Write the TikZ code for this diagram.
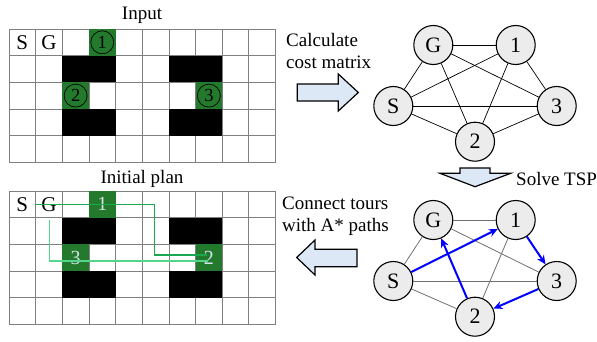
\documentclass[tikz,border=0pt]{standalone}
\usepackage{fontspec}
\setmainfont{Liberation Serif}
\usetikzlibrary{arrows.meta}

\definecolor{cellgreen}{RGB}{35,122,44}
\definecolor{pathdark}{RGB}{26,168,80}
\definecolor{pathlight}{RGB}{85,212,140}
\definecolor{nodefill}{RGB}{236,236,236}
\definecolor{arrowfill}{RGB}{220,232,245}
\definecolor{gridgray}{RGB}{128,128,128}
\definecolor{edgegray}{RGB}{112,112,112}
\definecolor{tourblue}{RGB}{0,0,255}
\definecolor{celltext}{RGB}{215,225,235}

% grid lines and obstacle blocks of the 10x5 map (cell units)
\newcommand\mapcells{%
  \foreach \i in {0,...,10} \draw[gridline] (\i,0) -- (\i,5);
  \foreach \j in {0,...,5} \draw[gridline] (0,\j) -- (10,\j);
  \fill[black] (2,1) rectangle (4,2);
  \fill[black] (6,1) rectangle (8,2);
  \fill[black] (2,3) rectangle (4,4);
  \fill[black] (6,3) rectangle (8,4);
  \fill[cellgreen] (3,0) rectangle (4,1);
  \fill[cellgreen] (2,2) rectangle (3,3);
  \fill[cellgreen] (7,2) rectangle (8,3);
}

\begin{document}
\begin{tikzpicture}[x=1pt,y=-1pt,
  font=\fontsize{19}{21.5}\selectfont,
  gridline/.style={draw=gridgray,line width=0.8pt},
  celllabel/.style={inner sep=0pt,font=\fontsize{21}{21}\selectfont},
  circlabel/.style={circle,draw=black,line width=0.7pt,minimum size=23pt,inner sep=0pt,font=\fontsize{18.5}{18.5}\selectfont},
  planlabel/.style={inner sep=0pt,text=celltext,font=\fontsize{20}{20}\selectfont},
  gnode/.style={circle,draw=black,fill=nodefill,line width=1.1pt,minimum size=39pt,inner sep=0pt,font=\fontsize{22}{22}\selectfont},
  kedge/.style={draw=black,line width=0.7pt},
  gedge/.style={draw=edgegray,line width=0.8pt},
  tour/.style={draw=tourblue,line width=2pt,-{Stealth[length=9pt,width=8pt]}},
  bigarrow/.style={draw=black,fill=arrowfill,line width=1.2pt,line join=miter},
  planpathA/.style={draw=pathdark,line width=1.3pt},
  planpathB/.style={draw=pathlight,line width=1.3pt}]

\useasboundingbox (0,0) rectangle (597,341);

% ---------- input map ----------
\node (tin) at (142,15) {Input};
\begin{scope}[shift={(9,29)},x=26.65pt,y=-26.65pt]
  \mapcells
  \node[celllabel] (inS) at (0.5,0.5) {S};
  \node[celllabel] (inG) at (1.5,0.5) {G};
  \node[circlabel] (in1) at (3.5,0.5) {1};
  \node[circlabel] (in2) at (2.5,2.5) {2};
  \node[circlabel] (in3) at (7.5,2.5) {3};
\end{scope}

% ---------- initial plan ----------
\node (tplan) at (142,179) {Initial plan};
\begin{scope}[shift={(9,191)},x=26.65pt,y=-26.65pt]
  \mapcells
  \node[celllabel] (plS) at (0.5,0.5) {S};
  \node[celllabel] (plG) at (1.5,0.5) {G};
  \node[planlabel] (pl1) at (3.5,0.5) {1};
  \node[planlabel] (pl3) at (2.5,2.5) {3};
  \node[planlabel] (pl2) at (7.5,2.5) {2};
\end{scope}
\coordinate (pa0) at (35,204.5);
\coordinate (pa1) at (154.3,204.5);
\coordinate (pa2) at (154.3,255);
\coordinate (pa3) at (207,255);
\coordinate (pb0) at (49.3,220);
\coordinate (pb1) at (49.3,261);
\coordinate (pb2) at (208,261);
\draw[planpathA] (pa0) -- (pa1) -- (pa2) -- (pa3);
\draw[planpathB] (pb0) -- (pb1) -- (pb2);

% ---------- step arrows and captions ----------
\node[anchor=west,align=left,inner sep=0pt] (tcalc) at (286,51) {Calculate\\cost matrix};
\draw[bigarrow] (297.3,84) -- (338.3,84) -- (338.3,74) -- (358.3,92.5)
  -- (338.3,111) -- (338.3,101) -- (297.3,101) -- cycle;

\draw[bigarrow] (460,168) -- (490,168) -- (490,173.3) -- (510.7,173.3) -- (475,186.7)
  -- (440,173.3) -- (460,173.3) -- cycle;
\node[anchor=west,inner sep=0pt] (tsolve) at (516,179) {Solve TSP};

\node[anchor=west,align=left,inner sep=0pt] (tconn) at (282,216) {Connect tours\\with A* paths};
\draw[bigarrow] (357,249.3) -- (315,249.3) -- (315,240) -- (296.7,257.5)
  -- (315,275) -- (315,266.7) -- (357,266.7) -- cycle;

% ---------- complete cost graph ----------
\node[gnode] (kG) at (433.3,45) {G};
\node[gnode] (k1) at (515.7,45) {1};
\node[gnode] (kS) at (393.3,106) {S};
\node[gnode] (k3) at (556.7,106) {3};
\node[gnode] (k2) at (475,141.7) {2};
\foreach \a/\b in {kG/k1,kG/kS,kG/k2,kG/k3,k1/kS,k1/k2,k1/k3,kS/k3,kS/k2,k2/k3}
  \draw[kedge] (\a) -- (\b);

% ---------- solved tour ----------
\node[gnode] (tG) at (433.3,220) {G};
\node[gnode] (t1) at (515.7,220) {1};
\node[gnode] (tS) at (393.3,281) {S};
\node[gnode] (t3) at (556.7,281) {3};
\node[gnode] (t2) at (475,316.7) {2};
\foreach \a/\b in {tG/t1,tG/tS,tG/t3,t1/t2,tS/t3,tS/t2}
  \draw[gedge] (\a) -- (\b);
\draw[tour] (tS) -- (t1);
\draw[tour] (t1) -- (t3);
\draw[tour] (t3) -- (t2);
\draw[tour] (t2) -- (tG);

\end{tikzpicture}
\end{document}
